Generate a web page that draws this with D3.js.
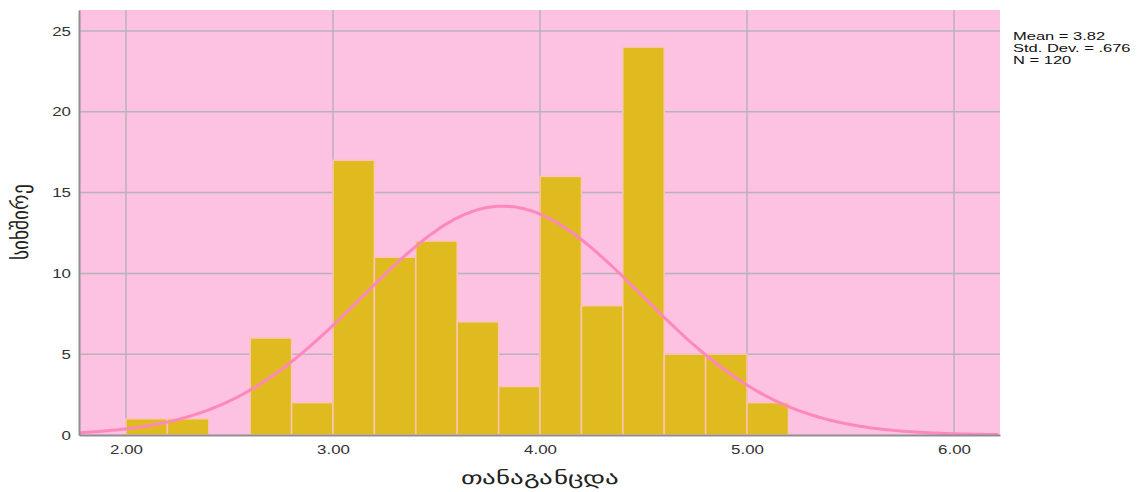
<!DOCTYPE html>
<html>
<head>
<meta charset="utf-8">
<script src="https://cdn.jsdelivr.net/npm/d3@7"></script>
<style>
  body { margin: 0; background: #fff; }
  text { font-family: "Liberation Sans", Arial, sans-serif; }
</style>
</head>
<body>
<script>
var width = 1141,
    height = 492;

var margin = {top: 10, right: 141, bottom: 57, left: 79},
    graphWidth = width - margin.left - margin.right,
    graphHeight = height - margin.top - margin.bottom;

// histogram bins (start of each 0.2 wide bin) and counts
var binStarts = [2.0, 2.2, 2.4, 2.6, 2.8, 3.0, 3.2, 3.4, 3.6, 3.8, 4.0, 4.2, 4.4, 4.6, 4.8, 5.0];
var counts = [1, 1, 0, 6, 2, 17, 11, 12, 7, 3, 16, 8, 24, 5, 5, 2];
var binWidth = 0.2;
var xTicks = [2, 3, 4, 5, 6];
var yTicks = [0, 5, 10, 15, 20, 25];
var stats = {mean: 3.82, sd: 0.676, n: 120};
var statLines = ["Mean = 3.82", "Std. Dev. = .676", "N = 120"];

// text in the reference is a bit stretched sideways
var stretch = 1.3;

var svg = d3.select("body").append("svg")
  .attr("width", width)
  .attr("height", height)
  .attr("id", "canvas");

var g = svg.append("g")
  .attr("transform", "translate(" + margin.left + "," + margin.top + ")");

var xScale = d3.scaleLinear()
  .domain([1.773, 6.222])
  .range([0, graphWidth]);
var yScale = d3.scaleLinear()
  .domain([0, 26.3])
  .range([graphHeight, 0]);

// background
g.append("rect")
  .attr("width", graphWidth)
  .attr("height", graphHeight)
  .attr("fill", "#fdc1e1");

// grid
g.selectAll(".vgrid").data(xTicks).enter().append("line")
  .attr("x1", d => xScale(d)).attr("x2", d => xScale(d))
  .attr("y1", 0).attr("y2", graphHeight)
  .attr("stroke", "#b9b3b8").attr("stroke-width", 1.5);
g.selectAll(".hgrid").data(yTicks.slice(1)).enter().append("line")
  .attr("x1", 0).attr("x2", graphWidth)
  .attr("y1", d => yScale(d)).attr("y2", d => yScale(d))
  .attr("stroke", "#b9b3b8").attr("stroke-width", 1.5);

// bars
g.selectAll(".bar").data(binStarts).enter().append("rect")
  .attr("x", d => xScale(d))
  .attr("y", (d, i) => yScale(counts[i]))
  .attr("width", xScale(binWidth) - xScale(0))
  .attr("height", (d, i) => graphHeight - yScale(counts[i]))
  .attr("fill", (d, i) => counts[i] > 0 ? "#dfbb1f" : "none")
  .attr("stroke", (d, i) => counts[i] > 0 ? "#fbc5b8" : "none")
  .attr("stroke-width", 1.5);

// normal curve from mean / sd / N
var curveX = d3.range(xScale.domain()[0], xScale.domain()[1] + 0.001, 0.02);
var line = d3.line()
  .x(d => xScale(d))
  .y(d => yScale(stats.n * binWidth / (stats.sd * Math.sqrt(2 * Math.PI)) *
                 Math.exp(-0.5 * Math.pow((d - stats.mean) / stats.sd, 2))))
  .curve(d3.curveBasis);
g.append("path")
  .datum(curveX)
  .attr("d", line)
  .attr("fill", "none")
  .attr("stroke", "#fd88bd")
  .attr("stroke-width", 3);

// axes
var xAxis = g.append("g")
  .attr("transform", "translate(0," + graphHeight + ")")
  .call(d3.axisBottom(xScale).tickValues(xTicks).tickFormat(d3.format(".2f")).tickSize(0).tickPadding(10));
var yAxis = g.append("g")
  .call(d3.axisLeft(yScale).tickValues(yTicks).tickSize(0).tickPadding(8));
[xAxis, yAxis].forEach(function(a) {
  a.select(".domain").attr("stroke", "#8f8f8f").attr("stroke-width", 2);
  a.selectAll("text").attr("font-size", 13).attr("fill", "#333")
    .attr("font-family", "'Liberation Sans', Arial, sans-serif");
});
xAxis.selectAll("text").attr("transform", "scale(" + stretch + ",1)");
yAxis.selectAll("text").attr("x", 0)
  .attr("transform", "translate(-8,0) scale(" + stretch + ",1)");

// axis titles
svg.append("text")
  .attr("transform", "translate(" + (margin.left + xScale(4)) + ",484) scale(1.5,1)")
  .attr("text-anchor", "middle")
  .attr("font-family", "'DejaVu Sans', sans-serif")
  .attr("font-size", 18)
  .attr("fill", "#222")
  .text("თანაგანცდა");
svg.append("text")
  .attr("transform", "translate(28," + 222 + ") rotate(-90) scale(1.05,1.25)")
  .attr("text-anchor", "middle")
  .attr("font-family", "'DejaVu Sans', sans-serif")
  .attr("font-size", 18)
  .attr("fill", "#222")
  .text("სიხშირე");

// stats box
svg.selectAll(".stat").data(statLines).enter().append("text")
  .attr("transform", (d, i) => "translate(1013," + (40 + i * 12) + ") scale(1.5,1)")
  .attr("font-size", 11)
  .attr("fill", "#111")
  .text(d => d);
</script>
</body>
</html>
